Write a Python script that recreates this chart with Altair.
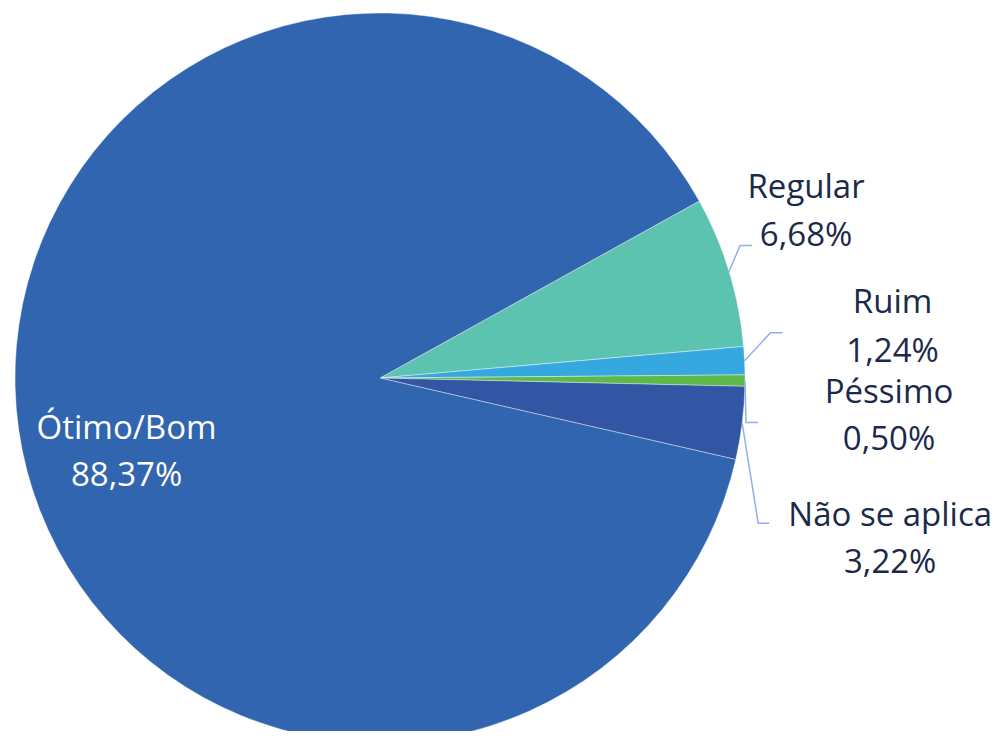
import math
import altair as alt
import pandas as pd

# ---- data ----
categories = ["Regular", "Ruim", "Péssimo", "Não se aplica", "Ótimo/Bom"]
values = [6.68, 1.24, 0.50, 3.22, 88.37]
colors = ["#5BC3AF", "#36A8E0", "#5DB94B", "#3256A4", "#3165B0"]
text_colors = ["#1B2A4A", "#1B2A4A", "#1B2A4A", "#1B2A4A", "#FFFFFF"]

# ---- layout (label offsets from the slice's outer mid point, in px) ----
elbow_dx = [11, 26, 1, 16, None]
elbow_dy = [-26, -28, 42, 100, None]
end_len = [12, 12, 12, 11, None]
label_dx = [77, 148, 144, 148, 108]
label_dy1 = [-83, -58, 12, 93, 0]
label_dy2 = [-35, -9, 59, 140, 47]

W, H = 992, 723
CX, CY, R = 372, 370, 365
START_DEG = 61.0
start = math.radians(START_DEG)

total = sum(values)
arc_df = pd.DataFrame({"cat": categories, "value": values, "order": list(range(len(categories)))})

# compute mid angles from data
cum = 0.0
line_rows, text_rows = [], []
for i, (c, v) in enumerate(zip(categories, values)):
    mid = start + 2 * math.pi * (cum + v / 2) / total
    cum += v
    ex = CX + R * math.sin(mid)
    ey = CY - R * math.cos(mid)
    if elbow_dx[i] is not None:
        bx, by = ex + elbow_dx[i], ey + elbow_dy[i]
        pts = [(ex, ey), (bx, by), (bx + end_len[i], by)]
        for k, (px, py) in enumerate(pts):
            line_rows.append({"cat": c, "k": k, "x": px, "y": py})
    pct = f"{v:.2f}".replace(".", ",") + "%"
    text_rows.append({"cat": c, "txt": c, "x": ex + label_dx[i], "y": ey + label_dy1[i], "tc": text_colors[i]})
    text_rows.append({"cat": c, "txt": pct, "x": ex + label_dx[i], "y": ey + label_dy2[i], "tc": text_colors[i]})

line_df = pd.DataFrame(line_rows)
text_df = pd.DataFrame(text_rows)

xs = alt.Scale(domain=[0, W], range=[0, W])
ys = alt.Scale(domain=[0, H], range=[0, H])

pie = alt.Chart(arc_df).mark_arc(outerRadius=R, stroke="#ffffff", strokeWidth=0.4).encode(
    theta=alt.Theta("value:Q", stack=True, scale=alt.Scale(range=[start, start + 2 * math.pi])),
    order=alt.Order("order:Q"),
    color=alt.Color("cat:N", scale=alt.Scale(domain=categories, range=colors), legend=None),
    x=alt.value(CX),
    y=alt.value(CY),
)

leaders = alt.Chart(line_df).mark_line(color="#8FB0E8", strokeWidth=1.5).encode(
    x=alt.X("x:Q", scale=xs, axis=None),
    y=alt.Y("y:Q", scale=ys, axis=None),
    detail="cat:N",
    order="k:Q",
)

labels = alt.Chart(text_df).mark_text(
    font="Open Sans", fontSize=33, align="center", baseline="middle"
).encode(
    x=alt.X("x:Q", scale=xs, axis=None),
    y=alt.Y("y:Q", scale=ys, axis=None),
    text="txt:N",
    color=alt.Color("tc:N", scale=None),
)

chart = alt.layer(pie, leaders, labels).resolve_scale(color="independent").properties(
    width=W, height=H, padding=0, autosize=alt.AutoSizeParams(type="none")
).configure_view(stroke=None)

chart.save("out.html", embed_options={"renderer": "svg", "actions": False})
